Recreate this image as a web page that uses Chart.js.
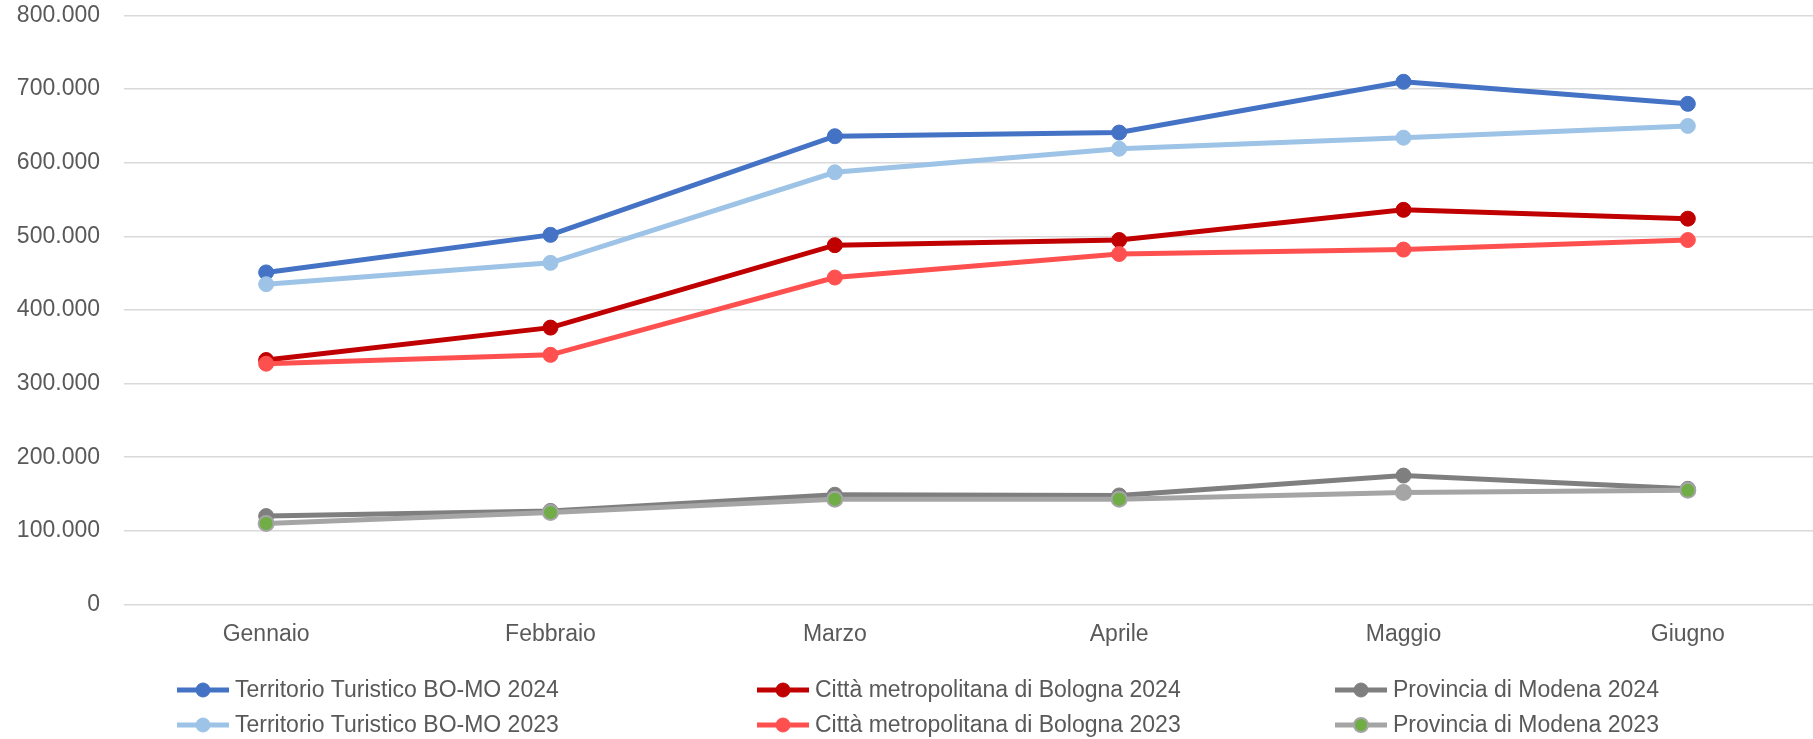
<!DOCTYPE html>
<html lang="it">
<head>
<meta charset="utf-8">
<title>Presenze gennaio-giugno</title>
<script src="https://cdn.jsdelivr.net/npm/chart.js@4.4.1/dist/chart.umd.min.js"></script>
<style>
  html, body { margin: 0; padding: 0; background: #fff; overflow: hidden; }
  #wrap { position: relative; width: 1840px; height: 739px; }
</style>
</head>
<body>
<div id="wrap"><canvas id="chart"></canvas></div>
<script>
// Presenze mensili 2023 vs 2024: Territorio BO-MO, Bologna, Modena
var months = ["Gennaio", "Febbraio", "Marzo", "Aprile", "Maggio", "Giugno"];

var boMo2024 = [451000, 502000, 636000, 641000, 710000, 680000];
var boMo2023 = [435000, 464000, 587000, 619000, 634000, 650000];
var bologna2024 = [332000, 376000, 488000, 495000, 536000, 524000];
var bologna2023 = [327000, 339000, 444000, 476000, 482000, 495000];
var modena2024 = [120000, 127000, 149000, 148000, 175000, 157000];
var modena2023 = [110000, 125000, 143000, 143000, 152000, 155000];

var yTicks = [0, 100000, 200000, 300000, 400000, 500000, 600000, 700000, 800000];

var FONT = "'Liberation Sans', Arial, sans-serif";
var TEXT = "#595959";

function fmt(v) {
  return String(v).replace(/\B(?=(\d{3})+(?!\d))/g, ".");
}

function series(label, data, color, order, extra) {
  var ds = {
    label: label,
    data: data,
    borderColor: color,
    backgroundColor: color,
    borderWidth: 5,
    pointRadius: 7.5,
    pointHoverRadius: 7.5,
    pointBackgroundColor: color,
    pointBorderColor: color,
    pointBorderWidth: 1,
    tension: 0,
    order: order
  };
  for (var k in extra) ds[k] = extra[k];
  return ds;
}

// Modena 2023: green markers, except May which keeps the line grey
var modena23Markers = ["#70ad47", "#70ad47", "#70ad47", "#70ad47", "#a5a5a5", "#70ad47"];

var datasets = [
  series("Territorio Turistico BO-MO 2024", boMo2024, "#4472c4", 1, { legendSlot: [0, 0] }),
  series("Territorio Turistico BO-MO 2023", boMo2023, "#9dc3e6", 0, { legendSlot: [0, 1] }),
  series("Città metropolitana di Bologna 2024", bologna2024, "#c00000", 1, { legendSlot: [1, 0] }),
  series("Città metropolitana di Bologna 2023", bologna2023, "#ff5050", 0, { legendSlot: [1, 1] }),
  series("Provincia di Modena 2024", modena2024, "#7f7f7f", 1, { legendSlot: [2, 0] }),
  series("Provincia di Modena 2023", modena2023, "#a5a5a5", 0, {
    legendSlot: [2, 1],
    pointBackgroundColor: modena23Markers,
    pointBorderColor: "#a5a5a5",
    pointBorderWidth: 2,
    legendMarker: "#70ad47"
  })
];

// Three-column legend below the axis
var gridLegend = {
  id: "gridLegend",
  afterDraw: function (chart) {
    var ctx = chart.ctx;
    var colX = [177, 757, 1335];
    var rowY = [690, 725];
    ctx.save();
    ctx.font = "23px " + FONT;
    ctx.textBaseline = "middle";
    ctx.textAlign = "left";
    chart.data.datasets.forEach(function (ds) {
      var x = colX[ds.legendSlot[0]];
      var y = rowY[ds.legendSlot[1]];
      ctx.strokeStyle = ds.borderColor;
      ctx.lineWidth = 5;
      ctx.beginPath();
      ctx.moveTo(x, y);
      ctx.lineTo(x + 52, y);
      ctx.stroke();
      ctx.beginPath();
      ctx.arc(x + 26, y, 7, 0, Math.PI * 2);
      ctx.fillStyle = ds.legendMarker || ds.borderColor;
      ctx.fill();
      ctx.lineWidth = ds.pointBorderWidth;
      ctx.strokeStyle = typeof ds.pointBorderColor === "string" ? ds.pointBorderColor : ds.borderColor;
      ctx.stroke();
      ctx.fillStyle = TEXT;
      ctx.fillText(ds.label, x + 58, y + 1);
    });
    ctx.restore();
  }
};

new Chart(document.getElementById("chart"), {
  type: "line",
  data: { labels: months, datasets: datasets },
  plugins: [gridLegend],
  options: {
    responsive: true,
    maintainAspectRatio: false,
    animation: false,
    layout: { padding: { top: 15.5, right: 10, left: 0, bottom: 0 } },
    plugins: {
      legend: { display: false },
      tooltip: { enabled: false }
    },
    scales: {
      x: {
        offset: true,
        grid: { display: false, drawTicks: false },
        border: { display: false },
        ticks: { color: TEXT, font: { family: FONT, size: 23 }, padding: 16, maxRotation: 0 },
        afterFit: function (s) { s.height = 134.6; }
      },
      y: {
        min: 0,
        max: 800000,
        afterBuildTicks: function (s) { s.ticks = yTicks.map(function (v) { return { value: v }; }); },
        grid: { color: "#d9d9d9", lineWidth: 1.5, drawTicks: false },
        border: { display: false },
        ticks: {
          color: TEXT,
          font: { family: FONT, size: 23 },
          padding: 24,
          callback: function (v) { return fmt(v); }
        },
        afterFit: function (s) {
          s.width = 124;
          s.paddingTop = 0;
          s.paddingBottom = 0;
        }
      }
    }
  }
});
</script>
</body>
</html>
